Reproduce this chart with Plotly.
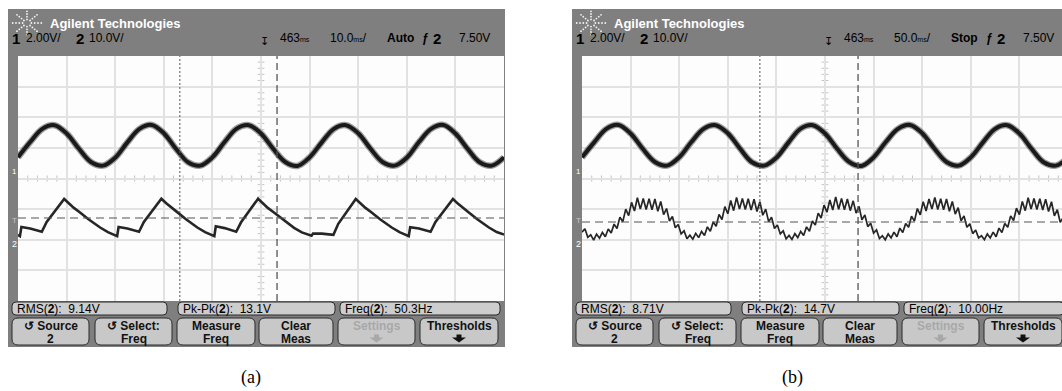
import plotly.graph_objects as go

W, H = 1062, 391

# ---------------- data (screen divisions: x 0..10, y -4..4) ----------------
sine_t = [0.25 * i for i in range(41)]
sine_a = [0.69, 1.19, 1.62, 1.74, 1.47, 0.98, 0.54, 0.42,
          0.68, 1.18, 1.62, 1.75, 1.48, 0.97, 0.53, 0.42,
          0.69, 1.19, 1.63, 1.74, 1.47, 0.97, 0.54, 0.41,
          0.69, 1.18, 1.62, 1.74, 1.48, 0.98, 0.54, 0.42,
          0.68, 1.19, 1.62, 1.75, 1.47, 0.97, 0.53, 0.42, 0.69]
sine_b = [0.69, 1.18, 1.62, 1.75, 1.47, 0.97, 0.54, 0.42,
          0.69, 1.19, 1.62, 1.74, 1.48, 0.98, 0.53, 0.42,
          0.68, 1.18, 1.63, 1.74, 1.47, 0.97, 0.54, 0.41,
          0.69, 1.19, 1.62, 1.75, 1.48, 0.98, 0.54, 0.42,
          0.69, 1.18, 1.62, 1.74, 1.47, 0.97, 0.53, 0.42, 0.68]

saw_a_t = [0.00, 0.04, 0.07, 0.25, 0.49, 0.59,
           0.95, 1.05, 1.15, 1.27, 1.45, 1.69, 1.85, 2.04, 2.07, 2.25, 2.49, 2.59,
           2.95, 3.05, 3.15, 3.27, 3.45, 3.69, 3.85, 4.04, 4.07, 4.25, 4.49, 4.59,
           4.94, 5.04, 5.14, 5.26, 5.44, 5.68, 5.84, 6.04, 6.07, 6.25, 6.49, 6.59,
           6.95, 7.05, 7.15, 7.27, 7.45, 7.69, 7.85, 8.04, 8.07, 8.25, 8.49, 8.59,
           8.95, 9.05, 9.15, 9.27, 9.45, 9.69, 9.85, 10.0]
saw_a_v = [-1.84, -1.88, -1.58, -1.63, -1.74, -1.42,
           -0.67, -0.82, -0.96, -1.10, -1.33, -1.60, -1.75, -1.88, -1.58, -1.63, -1.74, -1.42,
           -0.66, -0.81, -0.95, -1.09, -1.32, -1.60, -1.75, -1.88, -1.56, -1.62, -1.74, -1.43,
           -0.66, -0.82, -0.96, -1.10, -1.33, -1.61, -1.76, -1.87, -1.80, -1.80, -1.84, -1.48,
           -0.67, -0.82, -0.96, -1.10, -1.33, -1.60, -1.75, -1.88, -1.59, -1.63, -1.74, -1.42,
           -0.67, -0.82, -0.96, -1.10, -1.33, -1.60, -1.75, -1.83]

ripple_b_dt = 0.06
ripple_b_v = [
    -1.75, -1.64, -1.92, -1.84, -2.01, -1.82, -1.95, -1.76, -1.90, -1.65,
    -1.78, -1.49, -1.63, -1.26, -1.41, -1.00, -1.21, -0.78, -1.06, -0.63,
    -1.00, -0.65, -1.01, -0.66, -1.02, -0.67, -1.07, -0.75, -1.18, -0.98,
    -1.39, -1.24, -1.61, -1.50, -1.81, -1.71, -1.97,
    -1.85, -1.98, -1.79, -1.93, -1.73, -1.86, -1.58, -1.72, -1.42, -1.56,
    -1.17, -1.34, -0.92, -1.15, -0.72, -1.05, -0.62, -1.00, -0.65, -1.01,
    -0.66, -1.03, -0.68, -1.08, -0.76, -1.20, -1.00, -1.41, -1.26, -1.63,
    -1.52, -1.81, -1.71, -1.97,
    -1.86, -1.99, -1.80, -1.93, -1.73, -1.86, -1.58, -1.72, -1.39, -1.52,
    -1.13, -1.29, -0.87, -1.10, -0.70, -1.03, -0.60, -1.01, -0.65, -1.02,
    -0.67, -1.05, -0.73, -1.13, -0.91, -1.35, -1.19, -1.57, -1.46, -1.78,
    -1.68, -1.96,
    -1.87, -2.00, -1.81, -1.94, -1.75, -1.90, -1.62, -1.76, -1.47, -1.59,
    -1.23, -1.39, -0.98, -1.19, -0.76, -1.06, -0.67, -1.00, -0.62, -1.01,
    -0.66, -1.02, -0.67, -1.07, -0.75, -1.16, -0.95, -1.38, -1.22, -1.59,
    -1.48, -1.80, -1.68, -1.94,
    -1.87, -2.00, -1.81, -1.94, -1.75, -1.90, -1.62, -1.76, -1.47, -1.59,
    -1.22, -1.37, -0.97, -1.18, -0.75, -1.05, -0.63, -1.00, -0.65, -1.01,
    -0.66, -1.03, -0.68, -1.08, -0.76, -1.22, -1.02, -1.43, -1.28]
ripple_b_t = [ripple_b_dt * i for i in range(len(ripple_b_v))]

# cursor / trigger positions (divisions)
cursors_a = {"dot": 3.33, "dash": 5.33, "level": -1.29}
cursors_b = {"dot": 3.66, "dash": 5.68, "level": -1.42}

meas_a = ["RMS(<b>2</b>):\u00a0\u00a09.14V", "Pk-Pk(<b>2</b>):\u00a0\u00a013.1V", "Freq(<b>2</b>):\u00a0\u00a050.3Hz"]
meas_b = ["RMS(<b>2</b>):\u00a0\u00a08.71V", "Pk-Pk(<b>2</b>):\u00a0\u00a014.7V", "Freq(<b>2</b>):\u00a0\u00a010.00Hz"]
timebase_a = ["463", "10.0", "Auto"]
timebase_b = ["463", "50.0", "Stop"]
buttons = [("\u21ba Source", "2", "#111"), ("\u21ba Select:", "Freq", "#111"),
           ("Measure", "Freq", "#111"), ("Clear", "Meas", "#111"),
           ("Settings", None, "#a8a8a8"), ("Thresholds", None, "#111")]
button_x = [(12, 89), (95, 172), (177, 255), (259, 333), (338, 415), (420, 498)]
meas_x = [(12, 167), (178, 335), (340, 500)]
captions = [("(a)", 251), ("(b)", 792)]


def X(px):
    return px / W


def Y(py):
    return 1 - py / H


def rr(x0, y0, x1, y1, r):
    return (f"M{X(x0+r)},{Y(y0)} L{X(x1-r)},{Y(y0)} Q{X(x1)},{Y(y0)} {X(x1)},{Y(y0+r)} "
            f"L{X(x1)},{Y(y1-r)} Q{X(x1)},{Y(y1)} {X(x1-r)},{Y(y1)} "
            f"L{X(x0+r)},{Y(y1)} Q{X(x0)},{Y(y1)} {X(x0)},{Y(y1-r)} "
            f"L{X(x0)},{Y(y0+r)} Q{X(x0)},{Y(y0)} {X(x0+r)},{Y(y0)} Z")


def down_arrow(c, top):
    pts = [(c - 2.5, top), (c + 2.5, top), (c + 2.5, top + 3), (c + 7, top + 3),
           (c, top + 8), (c - 7, top + 3), (c - 2.5, top + 3)]
    return "M" + " L".join(f"{X(px)},{Y(py)}" for px, py in pts) + " Z"


fig = go.Figure()

# ---- traces ----
for xa, ya, sv in (("x", "y", sine_a), ("x2", "y2", sine_b)):
    fig.add_trace(go.Scatter(x=sine_t, y=sv, mode="lines", xaxis=xa, yaxis=ya,
                             line=dict(color="rgba(40,40,40,0.45)", width=6.5, shape="spline"),
                             hoverinfo="skip", showlegend=False))
    fig.add_trace(go.Scatter(x=sine_t, y=sv, mode="lines", xaxis=xa, yaxis=ya,
                             line=dict(color="#1a1a1a", width=4, shape="spline"),
                             hoverinfo="skip", showlegend=False))
fig.add_trace(go.Scatter(x=saw_a_t, y=saw_a_v, mode="lines", xaxis="x", yaxis="y",
                         line=dict(color="#262626", width=2.6),
                         hoverinfo="skip", showlegend=False))
fig.add_trace(go.Scatter(x=ripple_b_t, y=ripple_b_v, mode="lines", xaxis="x2", yaxis="y2",
                         line=dict(color="#262626", width=1.7),
                         hoverinfo="skip", showlegend=False))

shapes = []
annotations = []


def ann(text, px, py, size=12, color="#000", xanchor="left", family="Liberation Sans"):
    annotations.append(dict(text=text, x=X(px), y=Y(py), xref="paper", yref="paper",
                            xanchor=xanchor, yanchor="middle", showarrow=False,
                            font=dict(family=family, size=size, color=color)))


for k, dx in enumerate((0, 564)):
    # frames
    shapes.append(dict(type="rect", xref="paper", yref="paper", layer="below",
                       x0=X(8 + dx), x1=X(505 + dx), y0=Y(347), y1=Y(9),
                       fillcolor="#7f7f7f", line=dict(width=0)))
    shapes.append(dict(type="rect", xref="paper", yref="paper", layer="below",
                       x0=X(18 + dx), x1=X(504 + dx), y0=Y(301), y1=Y(56),
                       fillcolor="#fdfdfd", line=dict(width=0)))
    for (a0, a1) in meas_x:
        shapes.append(dict(type="path", xref="paper", yref="paper", layer="below",
                           path=rr(a0 + dx, 302, a1 + dx, 315, 4),
                           fillcolor="#cdcdcd", line=dict(color="#2a2a2a", width=1)))
    for (a0, a1) in button_x:
        shapes.append(dict(type="path", xref="paper", yref="paper", layer="below",
                           path=rr(a0 + dx, 318, a1 + dx, 345, 6),
                           fillcolor="#c8c8c8", line=dict(color="#2a2a2a", width=1)))
    # logo
    cx, cy = 27 + dx, 23
    dirs = [(1, 0), (-1, 0), (0, 1), (0, -1), (0.7, 0.7), (-0.7, 0.7), (0.7, -0.7), (-0.7, -0.7)]
    for (ux, uy) in dirs:
        for f in (4, 7, 10, 13):
            px = cx + ux * f * 1.1
            py = cy + uy * f * 0.9
            shapes.append(dict(type="circle", xref="paper", yref="paper", layer="above",
                               x0=X(px - 0.9), x1=X(px + 0.9), y0=Y(py + 0.9), y1=Y(py - 0.9),
                               fillcolor="#f4f4f4", line=dict(width=0)))

    # header texts
    ann("<b>Agilent Technologies</b>", 48 + dx, 24, size=13, color="#ffffff")
    ann("<b>1</b>", 10 + dx, 38, size=15)
    ann("2.00V/", 24 + dx, 38, size=12)
    ann("<b>2</b>", 74 + dx, 38, size=15)
    ann("10.0V/", 87 + dx, 38, size=12)
    ann("\u21a7", 258 + dx, 41, size=11)
    tb = timebase_a if k == 0 else timebase_b
    ann(tb[0] + "<span style='font-size:7px'>ms</span>", 278 + dx, 38, size=12)
    ann(tb[1] + "<span style='font-size:7px'>ms</span>/", 328 + dx, 38, size=12)
    ann("<b>" + tb[2] + "</b>", 385 + dx, 38, size=12)
    ann("<b>\u0192</b>", 420 + dx, 38, size=12)
    ann("<b>2</b>", 431 + dx, 38, size=15)
    ann("7.50V", 457 + dx, 38, size=12)

    # left strip markers
    ann("1", 10 + dx, 171, size=8, color="#ffffff")
    ann("T", 10 + dx, 221, size=8, color="#c8c8c8")
    ann("2", 10 + dx, 244, size=9, color="#ffffff")

    # measurement texts
    ms = meas_a if k == 0 else meas_b
    for (a0, a1), t in zip(meas_x, ms):
        ann(t, a0 + 3 + dx, 308.5, size=12)
    # buttons
    for (a0, a1), (l1, l2, col) in zip(button_x, buttons):
        c = (a0 + a1) / 2 + dx
        ann("<b>" + l1 + "</b>", c, 325.5, size=12, color=col, xanchor="center")
        if l2 is None:
            shapes.append(dict(type="path", xref="paper", yref="paper", layer="above",
                               path=down_arrow(c, 334.5), fillcolor=col, line=dict(width=0)))
        else:
            ann("<b>" + l2 + "</b>", c, 338.5, size=12, color=col, xanchor="center")

    ann(captions[k][0], captions[k][1], 377, size=18, color="#000",
        xanchor="center", family="Liberation Serif")

# center ticks and cursors
for xr, yr, cur, xmax in (("x", "y", cursors_a, 10), ("x2", "y2", cursors_b, 10)):
    p = ""
    for i in range(1, 50):
        xv = 0.2 * i
        p += f"M{xv},-0.1 L{xv},0.1 "
    for i in range(-19, 20):
        yv = 0.2 * i
        p += f"M4.93,{yv} L5.07,{yv} "
    shapes.append(dict(type="path", xref=xr, yref=yr, layer="below", path=p,
                       line=dict(color="#c4c4c4", width=1)))
    shapes.append(dict(type="line", xref=xr, yref=yr, layer="above",
                       x0=cur["dot"], x1=cur["dot"], y0=-4, y1=4,
                       line=dict(color="#555555", width=1, dash="2px,2px")))
    shapes.append(dict(type="line", xref=xr, yref=yr, layer="above",
                       x0=cur["dash"], x1=cur["dash"], y0=-4, y1=4,
                       line=dict(color="#555555", width=1.3, dash="7px,4px")))
    shapes.append(dict(type="line", xref=xr, yref=yr, layer="above",
                       x0=0, x1=xmax, y0=cur["level"], y1=cur["level"],
                       line=dict(color="#555555", width=1.2, dash="8px,5px")))

axis_common = dict(showgrid=True, gridcolor="#e2e2e2", gridwidth=2, dtick=1, tick0=0,
                   showticklabels=False, ticks="", zeroline=False, showline=False,
                   fixedrange=True)
fig.update_layout(
    width=W, height=H, autosize=False,
    margin=dict(l=0, r=0, t=0, b=0, pad=0),
    paper_bgcolor="#ffffff", plot_bgcolor="rgba(0,0,0,0)",
    showlegend=False,
    xaxis=dict(domain=[X(18), X(504)], range=[0, 10], anchor="y", **axis_common),
    yaxis=dict(domain=[Y(301), Y(56)], range=[-4, 4], anchor="x", **axis_common),
    xaxis2=dict(domain=[X(582), 1.0], range=[0, (W - 582) / 48.6], anchor="y2", **axis_common),
    yaxis2=dict(domain=[Y(301), Y(56)], range=[-4, 4], anchor="x2", **axis_common),
    shapes=shapes, annotations=annotations,
)

fig.write_html("out.html", config={"displayModeBar": False, "staticPlot": True},
               post_script="document.body.style.margin='0';document.body.style.overflow='hidden';")
